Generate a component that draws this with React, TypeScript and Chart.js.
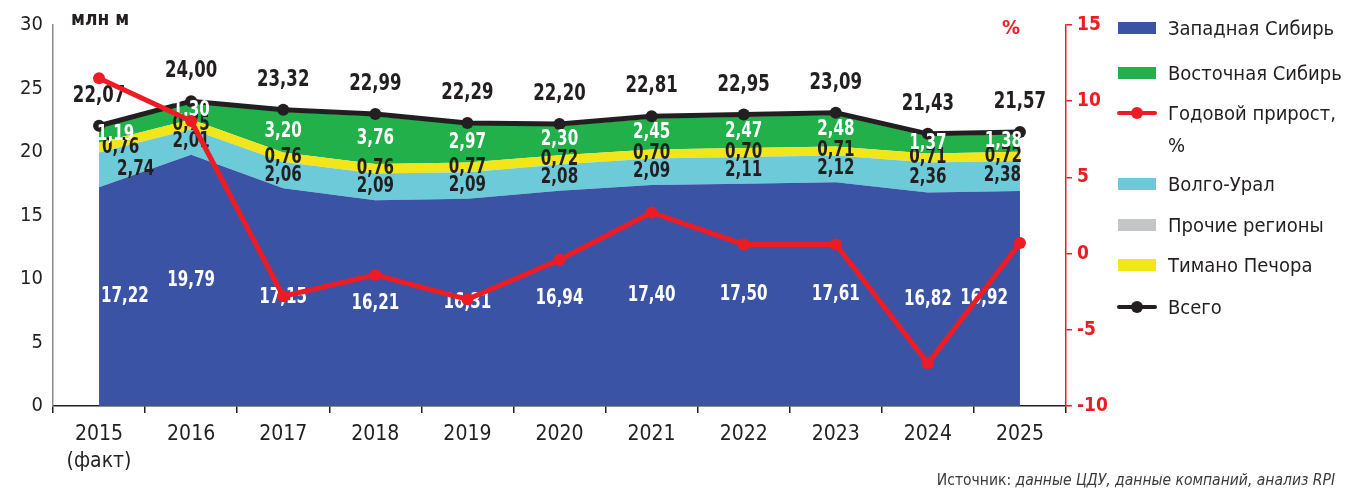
import React, { useEffect, useRef } from 'react';
import { Chart, registerables } from 'chart.js';

Chart.register(...registerables);

const years: (string | string[])[] = [['2015', '(факт)'], '2016', '2017', '2018', '2019', '2020', '2021', '2022', '2023', '2024', '2025'];
const westSiberia = [17.22, 19.79, 17.15, 16.21, 16.31, 16.94, 17.40, 17.50, 17.61, 16.82, 16.92];
const volgaUral = [2.74, 2.01, 2.06, 2.09, 2.09, 2.08, 2.09, 2.11, 2.12, 2.36, 2.38];
const timanPechora = [0.76, 0.75, 0.76, 0.76, 0.77, 0.72, 0.70, 0.70, 0.71, 0.71, 0.72];
const eastSiberia = [1.19, 1.30, 3.20, 3.76, 2.97, 2.30, 2.45, 2.47, 2.48, 1.37, 1.38];
const otherRegions = [0.16, 0.15, 0.15, 0.17, 0.15, 0.16, 0.17, 0.17, 0.17, 0.17, 0.17];
const total = [22.07, 24.00, 23.32, 22.99, 22.29, 22.20, 22.81, 22.95, 23.09, 21.43, 21.57];
const growth = [11.5, 8.7, -2.8, -1.4, -3.0, -0.4, 2.7, 0.6, 0.6, -7.2, 0.7];

const leftTicks = { min: 0, max: 30, step: 5 };
const rightTicks = { min: -10, max: 15, step: 5 };

const FONT = "'Liberation Sans Narrow', 'DejaVu Sans Condensed', 'Roboto', sans-serif";
const DARK = '#231F20';
const RED = '#ED1C24';
const C_WS = '#3B53A4';
const C_VU = '#6CCAD9';
const C_TP = '#F2E61B';
const C_ES = '#22B04B';
const C_OT = '#C4C5C7';
const SQUEEZE = 0.8;

const fmt = (v: number) => v.toFixed(2).replace('.', ',');

function drawNarrow(ctx: CanvasRenderingContext2D, text: string, x: number, y: number) {
  ctx.save();
  ctx.translate(x, y);
  ctx.scale(SQUEEZE, 1);
  ctx.fillText(text, 0, 0);
  ctx.restore();
}

const labelPlugin = {
  id: 'valueLabels',
  afterDatasetDraw(chart: any, args: any) {
    if (args.index !== 5) return;
    const ctx = chart.ctx;
    const xs = chart.scales.x;
    const ys = chart.scales.y;
    const n = total.length;
    const layers = [
      { data: westSiberia, color: '#FFFFFF', dx0: 2, dxN: -12 },
      { data: volgaUral, color: DARK, dx0: 18, dxN: 1 },
      { data: timanPechora, color: DARK, dx0: 3, dxN: 2 },
      { data: eastSiberia, color: '#FFFFFF', dx0: -2, dxN: 2 },
    ];
    ctx.save();
    ctx.textBaseline = 'middle';
    ctx.font = `bold 21px ${FONT}`;
    for (let i = 0; i < n; i++) {
      const x = xs.getPixelForValue(i);
      let base = 0;
      layers.forEach((l, li) => {
        const v = l.data[i];
        let mid = base + v / 2;
        if (li === 3) mid = base + (v + otherRegions[i]) / 2;
        base += v;
        const y = ys.getPixelForValue(mid);
        ctx.fillStyle = l.color;
        if (i === 0) {
          ctx.textAlign = 'left';
          drawNarrow(ctx, fmt(v), x + l.dx0, y);
        } else if (i === n - 1) {
          ctx.textAlign = 'right';
          drawNarrow(ctx, fmt(v), x + l.dxN, y);
        } else {
          ctx.textAlign = 'center';
          drawNarrow(ctx, fmt(v), x, y);
        }
      });
    }
    ctx.font = `bold 23px ${FONT}`;
    ctx.fillStyle = DARK;
    ctx.textAlign = 'center';
    for (let i = 0; i < n; i++) {
      const x = xs.getPixelForValue(i);
      const y = ys.getPixelForValue(total[i]) - 30;
      drawNarrow(ctx, fmt(total[i]), x, y);
    }
    ctx.restore();
  },
};

function area(label: string, data: number[], color: string, fill: any) {
  return {
    type: 'line' as const,
    label,
    data,
    yAxisID: 'y',
    backgroundColor: color,
    borderColor: color,
    borderWidth: 0,
    pointRadius: 0,
    fill,
    tension: 0,
    order: 2,
  };
}

const legendItems = [
  { label: 'Западная Сибирь', kind: 'box', color: C_WS, y: 28 },
  { label: 'Восточная Сибирь', kind: 'box', color: C_ES, y: 73 },
  { label: 'Годовой прирост,', kind: 'line', color: RED, y: 113 },
  { label: '%', kind: 'none', color: RED, y: 145 },
  { label: 'Волго-Урал', kind: 'box', color: C_VU, y: 184 },
  { label: 'Прочие регионы', kind: 'box', color: C_OT, y: 225 },
  { label: 'Тимано Печора', kind: 'box', color: C_TP, y: 265 },
  { label: 'Всего', kind: 'line', color: DARK, y: 307 },
];

export default function App() {
  const ref = useRef<HTMLCanvasElement | null>(null);
  useEffect(() => {
    if (!ref.current) return;
    const chart = new Chart(ref.current, {
      type: 'line',
      data: {
        labels: years as any,
        datasets: [
          area('Западная Сибирь', westSiberia, C_WS, 'origin'),
          area('Волго-Урал', volgaUral, C_VU, '-1'),
          area('Тимано Печора', timanPechora, C_TP, '-1'),
          area('Восточная Сибирь', eastSiberia, C_ES, '-1'),
          area('Прочие регионы', otherRegions, C_OT, '-1'),
          {
            type: 'line',
            label: 'Всего',
            data: total,
            yAxisID: 'y',
            stack: 'total',
            borderColor: DARK,
            backgroundColor: DARK,
            borderWidth: 5,
            pointRadius: 6,
            pointBackgroundColor: DARK,
            pointBorderWidth: 0,
            fill: false,
            tension: 0,
            order: 1,
          } as any,
          {
            type: 'line',
            label: 'Годовой прирост, %',
            data: growth,
            yAxisID: 'y1',
            borderColor: RED,
            backgroundColor: RED,
            borderWidth: 5,
            pointRadius: 6,
            pointBackgroundColor: RED,
            pointBorderWidth: 0,
            fill: false,
            tension: 0,
            order: 0,
          } as any,
        ],
      },
      options: {
        responsive: false,
        animation: false,
        layout: { padding: { top: 25, left: 0, right: 0, bottom: 0 } },
        plugins: { legend: { display: false }, tooltip: { enabled: false } },
        scales: {
          x: {
            type: 'category',
            offset: true,
            grid: { display: true, drawOnChartArea: false, drawTicks: true, tickLength: 7, offset: true, color: DARK, lineWidth: 1.5 },
            border: { display: true, color: DARK, width: 1.5 },
            ticks: { color: DARK, font: { family: FONT, size: 21, lineHeight: 1.3 }, padding: 8, maxRotation: 0, autoSkip: false },
            afterFit: (s: any) => { s.height = 87; },
          },
          y: {
            position: 'left',
            stacked: true,
            min: leftTicks.min,
            max: leftTicks.max,
            grid: { display: false, drawTicks: false },
            border: { display: true, color: '#8A8A8A', width: 1.5 },
            ticks: { stepSize: leftTicks.step, color: DARK, font: { family: FONT, size: 20 }, padding: 10 },
            afterFit: (s: any) => { s.width = 53; },
          },
          y1: {
            position: 'right',
            min: rightTicks.min,
            max: rightTicks.max,
            grid: { display: true, drawOnChartArea: false, drawTicks: true, tickLength: 6, color: RED, lineWidth: 1.5 },
            border: { display: true, color: RED, width: 1.5 },
            ticks: { stepSize: rightTicks.step, color: RED, font: { family: FONT, size: 19, weight: 'bold' }, padding: 5 },
            afterFit: (s: any) => { s.width = 279; },
          },
        },
      } as any,
      plugins: [labelPlugin],
    });
    return () => chart.destroy();
  }, []);

  return (
    <div style={{ position: 'fixed', left: 0, top: 0, width: 1345, height: 493, background: '#fff', fontFamily: FONT, color: DARK }}>
      <canvas ref={ref} width={1345} height={493} style={{ position: 'absolute', left: 0, top: 0, width: 1345, height: 493 }} />
      <div style={{ position: 'absolute', left: 71, top: 6, fontSize: 19, fontWeight: 'bold', lineHeight: '24px' }}>млн м</div>
      <div style={{ position: 'absolute', left: 1002, top: 15, fontSize: 20, fontWeight: 'bold', color: RED, lineHeight: '24px' }}>%</div>
      {legendItems.map((it, i) => (
        <div key={i}>
          {it.kind === 'box' && (
            <div style={{ position: 'absolute', left: 1118, top: it.y - 6, width: 38, height: 12, background: it.color }} />
          )}
          {it.kind === 'line' && (
            <>
              <div style={{ position: 'absolute', left: 1117, top: it.y - 2, width: 40, height: 4, background: it.color, borderRadius: 2 }} />
              <div style={{ position: 'absolute', left: 1131, top: it.y - 6, width: 12, height: 12, background: it.color, borderRadius: 6 }} />
            </>
          )}
          <div style={{ position: 'absolute', left: 1168, top: it.y - 12, fontSize: 20, lineHeight: '24px', whiteSpace: 'nowrap' }}>{it.label}</div>
        </div>
      ))}
      <div style={{ position: 'absolute', right: 10, top: 470, fontSize: 15.5, lineHeight: '20px', color: '#3A3A3A', whiteSpace: 'nowrap' }}>
        Источник: <i>данные ЦДУ, данные компаний, анализ RPI</i>
      </div>
    </div>
  );
}
